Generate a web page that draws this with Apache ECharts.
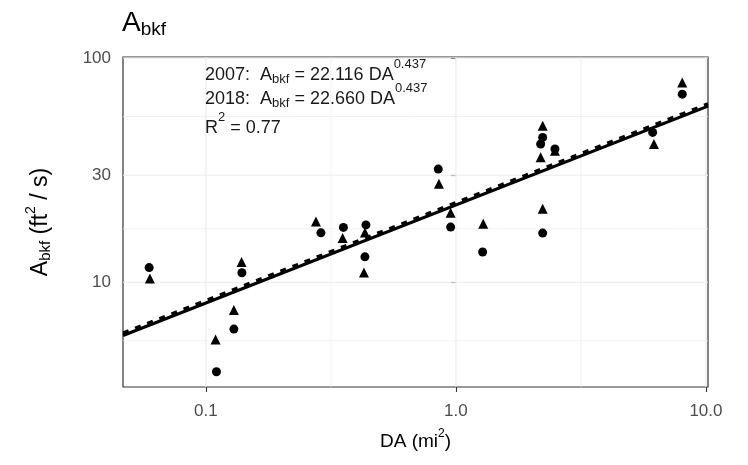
<!DOCTYPE html>
<html><head><meta charset="utf-8">
<script src="https://cdn.jsdelivr.net/npm/echarts@6/dist/echarts.min.js"></script>
<style>html,body{margin:0;padding:0;background:#fff}#c{width:748px;height:465px}</style>
</head><body><div id="c"></div>
<script>
// ---- data ----
const xTicks = [0.1, 1, 10];
const xTickLabels = ['0.1', '1.0', '10.0'];
const yTicks = [10, 30, 100];
const yTickLabels = ['10', '30', '100'];
const xMinorGrid = [0.316, 3.16];
const yMinorGrid = [5.48, 17.3, 54.8];
const xRange = [0.0466, 10.19];
const yRange = [3.41, 101];

// 2007 survey (circles)
const da2007   = [0.0593, 0.1393, 0.1294, 0.1102, 0.2884, 0.3548, 0.4365, 0.4325, 0.8497, 0.9524, 1.279, 2.223, 2.182, 2.489, 2.223, 6.12, 8.04];
const abkf2007 = [11.62, 11.02, 6.18, 3.99, 16.6, 17.55, 18.01, 12.98, 31.95, 17.61, 13.64, 44.23, 41.34, 39.28, 16.56, 46.56, 68.98];
// 2018 survey (triangles)
const da2018   = [0.0597, 0.1389, 0.1294, 0.1093, 0.2754, 0.3522, 0.4285, 0.4325, 0.855, 0.9524, 1.286, 2.223, 2.182, 2.223, 8.04, 6.194, 2.489];
const abkf2018 = [10.38, 12.31, 7.51, 5.56, 18.67, 15.74, 11.04, 16.68, 27.46, 20.41, 18.24, 49.86, 36.06, 21.27, 77.66, 41.34, 38.6];

// regression line end points
const fitDA   = [0.0466, 10.19];
const fit2007 = [5.79, 60.99];
const fit2018 = [5.94, 62.49];

// ---- chart ----
const L = Math.log10;
const FONT = '"Liberation Sans", Arial, sans-serif';
const chart = echarts.init(document.getElementById('c'), null, {renderer: 'canvas'});

function fmt(ticks, labels) {
  return function (v) {
    for (let i = 0; i < ticks.length; i++) if (Math.abs(L(ticks[i]) - v) < 1e-6) return labels[i];
    return '';
  };
}
const pts = (xs, ys) => xs.map((x, i) => [L(x), L(ys[i])]);

// grid lines: [orientation (0 vertical, 1 horizontal), log value, width]
const gridData = [].concat(
  xTicks.map(v => [0, L(v), 1.1]),
  xMinorGrid.map(v => [0, L(v), 0.7]),
  yTicks.map(v => [1, L(v), 1.1]),
  yMinorGrid.map(v => [1, L(v), 0.7])
);

const ink = '#1a1a1a';
const annRich = {
  m: {fontSize: 18, lineHeight: 24, fontFamily: FONT, fill: ink},
  p: {fontSize: 13, lineHeight: 10, padding: [0, 0, 22, 0], fontFamily: FONT, fill: ink},
  b: {fontSize: 13, lineHeight: 10, padding: [8, 0, 0, 0], fontFamily: FONT, fill: ink}
};
function annot(text, y) {
  return {
    type: 'text', left: 205, top: y, silent: true, z: 50,
    style: {text: text, fontFamily: FONT, fontSize: 18, fill: ink, rich: annRich}
  };
}

const option = {
  animation: false,
  backgroundColor: '#ffffff',
  title: {
    text: '{a|A}{s|bkf}', left: 122, top: 6, padding: 0,
    textStyle: {
      rich: {
        a: {fontSize: 28, lineHeight: 34, fontFamily: FONT, fontWeight: 'normal', color: '#000'},
        s: {fontSize: 19, lineHeight: 10, padding: [14, 0, 0, 0], fontFamily: FONT, fontWeight: 'normal', color: '#000'}
      }
    }
  },
  grid: {left: 123, right: 40, top: 57, bottom: 78, show: true, borderColor: '#333333', borderWidth: 1.2, backgroundColor: '#ffffff', containLabel: false},
  xAxis: {
    type: 'value', min: L(xRange[0]), max: L(xRange[1]),
    axisLine: {show: false},
    splitLine: {show: false},
    axisTick: {show: true, length: 5, customValues: xTicks.map(L), lineStyle: {color: '#333333', width: 1.1}},
    axisLabel: {customValues: xTicks.map(L), formatter: fmt(xTicks, xTickLabels), color: '#4d4d4d', fontSize: 17, fontFamily: FONT, margin: 16},
    name: '{a|DA (mi}{p|2}{a|)}', nameLocation: 'middle', nameGap: 40,
    nameTextStyle: {
      rich: {
        a: {fontSize: 19, lineHeight: 30, fontFamily: FONT, color: '#000'},
        p: {fontSize: 12, lineHeight: 10, padding: [0, 0, 16, 0], fontFamily: FONT, color: '#000'}
      }
    }
  },
  yAxis: {
    type: 'value', min: L(yRange[0]), max: L(yRange[1]),
    axisLine: {show: false},
    splitLine: {show: false},
    axisTick: {show: true, length: 5, customValues: yTicks.map(L), lineStyle: {color: '#333333', width: 1.1}},
    axisLabel: {customValues: yTicks.map(L), formatter: fmt(yTicks, yTickLabels), color: '#4d4d4d', fontSize: 17, fontFamily: FONT, margin: 12},
    name: '{a|A}{b|bkf}{a| (ft}{p|2}{a| / s)}', nameLocation: 'middle', nameGap: 67,
    nameTextStyle: {
      rich: {
        a: {fontSize: 23, lineHeight: 30, fontFamily: FONT, color: '#000'},
        b: {fontSize: 15, lineHeight: 10, padding: [10, 0, 0, 0], fontFamily: FONT, color: '#000'},
        p: {fontSize: 14, lineHeight: 10, padding: [0, 0, 20, 0], fontFamily: FONT, color: '#000'}
      }
    }
  },
  series: [
    {
      type: 'custom', silent: true, z: 1, data: gridData,
      renderItem: function (params, api) {
        const kind = api.value(0), v = api.value(1), w = api.value(2);
        let p1, p2;
        if (kind === 0) {
          p1 = api.coord([v, L(yRange[0])]); p2 = api.coord([v, L(yRange[1])]);
        } else {
          p1 = api.coord([L(xRange[0]), v]); p2 = api.coord([L(xRange[1]), v]);
        }
        return {type: 'line', shape: {x1: p1[0], y1: p1[1], x2: p2[0], y2: p2[1]}, style: {stroke: '#ebebeb', lineWidth: w}};
      }
    },
    {
      name: '2007', type: 'scatter', symbol: 'circle', symbolSize: 9, z: 5,
      itemStyle: {color: '#000', opacity: 1}, data: pts(da2007, abkf2007)
    },
    {
      name: '2018', type: 'scatter', symbol: 'triangle', symbolSize: 10, z: 5,
      itemStyle: {color: '#000', opacity: 1}, data: pts(da2018, abkf2018)
    },
    {
      name: 'fit 2007', type: 'line', showSymbol: false, symbol: 'none', z: 6,
      lineStyle: {color: '#000', width: 3.2, type: 'solid'},
      data: pts(fitDA, fit2007)
    },
    {
      name: 'fit 2018', type: 'line', showSymbol: false, symbol: 'none', z: 7,
      lineStyle: {color: '#000', width: 3.2, type: [6, 7]},
      data: pts(fitDA, fit2018)
    }
  ],
  graphic: [
    annot('{m|2007:  A}{b|bkf}{m| = 22.116 DA}{p|0.437}', 58),
    annot('{m|2018:  A}{b|bkf}{m| = 22.660 DA}{p|0.437}', 82),
    annot('{m|R}{p|2}{m| = 0.77}', 111)
  ]
};
chart.setOption(option);
</script>
</body></html>
